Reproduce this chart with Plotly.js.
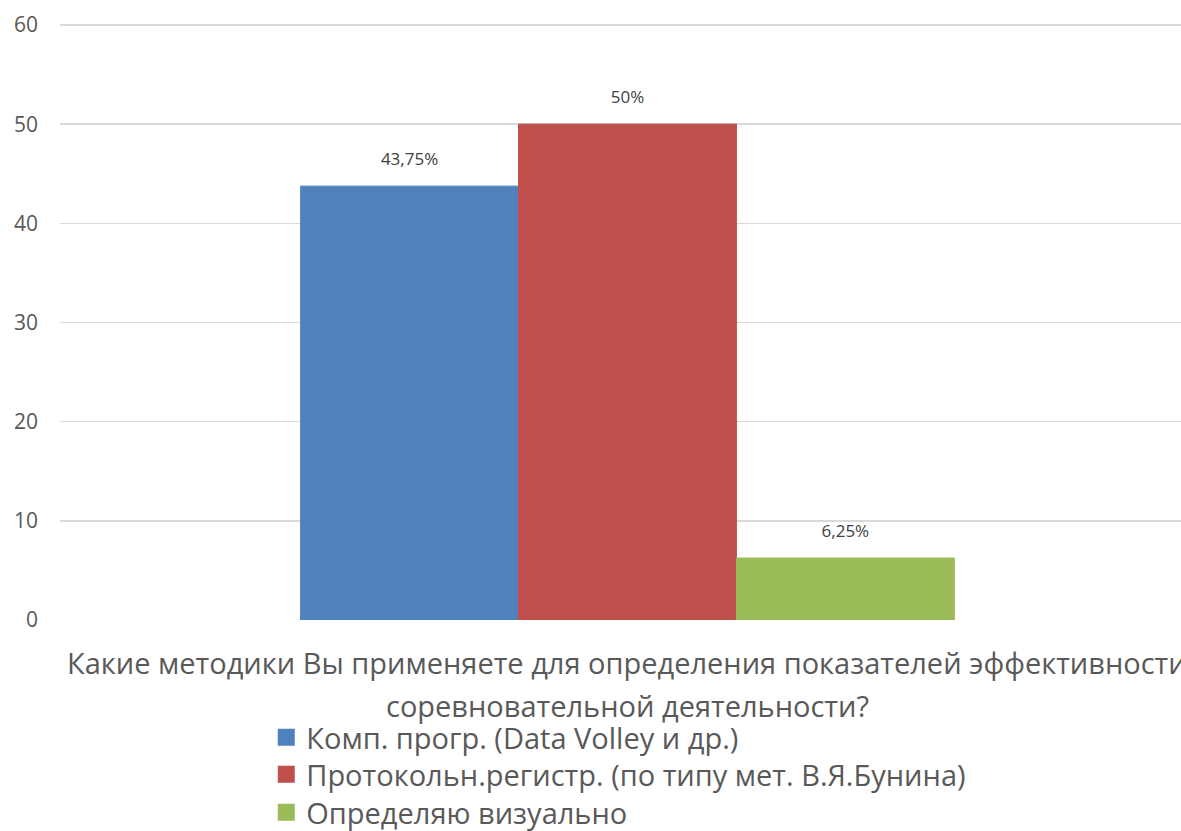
<!DOCTYPE html>
<html>
<head>
<meta charset="utf-8">
<script src="https://cdn.plot.ly/plotly-3.0.1.min.js"></script>
<style>html,body{margin:0;padding:0;background:#fff;}#chart{width:1181px;height:831px;}</style>
</head>
<body>
<div id="chart"></div>
<script>
const category = ["Q"];
const seriesNames = [
  "Комп. прогр. (Data Volley и др.)",
  "Протокольн.регистр. (по типу мет. В.Я.Бунина)",
  "Определяю визуально"
];
const seriesValues = [43.75, 50, 6.25];
const seriesLabels = ["43,75%", "50%", "6,25%"];
const seriesColors = ["#4F81BD", "#C0504D", "#9BBB59"];
const titleLine1 = "Какие методики Вы применяете для определения показателей эффективности";
const titleLine2 = "соревновательной деятельности?";
const yTicks = [0, 10, 20, 30, 40, 50, 60];

const FONT = "'Open Sans', Lato, sans-serif";
const legendIds = ["legend", "legend2", "legend3"];
const legendY = [-0.1541, -0.2161, -0.2797];

const barTraces = seriesNames.map((name, i) => ({
  type: "bar",
  name: name,
  x: category,
  y: [seriesValues[i]],
  offsetgroup: "s" + i,
  marker: {color: seriesColors[i], line: {width: 1, color: seriesColors[i]}},
  showlegend: false,
  hoverinfo: "none"
}));

const legendTraces = seriesNames.map((name, i) => ({
  type: "bar",
  name: name,
  x: category,
  y: [null],
  xaxis: "x2",
  yaxis: "y2",
  legend: legendIds[i],
  marker: {color: seriesColors[i], line: {width: 5, color: seriesColors[i]}},
  showlegend: true,
  hoverinfo: "none"
}));

const labelTraces = seriesNames.map((name, i) => ({
  type: "scatter",
  mode: "markers+text",
  name: name + " label",
  x: category,
  y: [seriesValues[i]],
  offsetgroup: "s" + i,
  text: [seriesLabels[i]],
  textposition: "top center",
  textfont: {family: FONT, size: 17, color: "#404040"},
  marker: {size: 26, opacity: 0, color: seriesColors[i]},
  cliponaxis: false,
  showlegend: false,
  hoverinfo: "none"
}));

function legendBox(i) {
  return {
    orientation: "v",
    x: 0.184,
    xanchor: "left",
    y: legendY[i],
    yanchor: "top",
    font: {family: FONT, size: 29, color: "#595959"},
    bgcolor: "rgba(0,0,0,0)"
  };
}

const layout = {
  width: 1181,
  height: 831,
  margin: {l: 60, r: 0, t: 23, b: 211, autoexpand: false},
  paper_bgcolor: "#ffffff",
  plot_bgcolor: "#ffffff",
  barmode: "group",
  scattermode: "group",
  bargap: 0.424,
  bargroupgap: 0,
  scattergap: 0.424,
  font: {family: FONT, color: "#595959"},
  xaxis: {
    type: "category",
    range: [-0.5, 0.4877],
    showticklabels: false,
    showgrid: false,
    zeroline: false,
    showline: false,
    ticks: ""
  },
  yaxis: {
    range: [0, 60.2],
    tickvals: yTicks,
    ticktext: yTicks.map(String),
    showgrid: true,
    gridcolor: "#d9d9d9",
    gridwidth: 1.5,
    zeroline: false,
    showline: false,
    ticks: "",
    ticklabelstandoff: 21,
    tickfont: {family: FONT, size: 21, color: "#595959"}
  },
  xaxis2: {overlaying: "x", visible: false, type: "category"},
  yaxis2: {overlaying: "y", visible: false, range: [0, 1]},
  showlegend: true,
  legend: legendBox(0),
  legend2: legendBox(1),
  legend3: legendBox(2),
  annotations: [
    {xref: "paper", yref: "paper", x: 0.5058, y: -0.0710, xanchor: "center", yanchor: "middle",
     text: titleLine1, showarrow: false, font: {family: FONT, size: 29, color: "#595959"}},
    {xref: "paper", yref: "paper", x: 0.5058, y: -0.1425, xanchor: "center", yanchor: "middle",
     text: titleLine2, showarrow: false, font: {family: FONT, size: 29, color: "#595959"}}
  ]
};

Plotly.newPlot("chart", barTraces.concat(labelTraces, legendTraces), layout, {displayModeBar: false, staticPlot: true});
</script>
</body>
</html>
